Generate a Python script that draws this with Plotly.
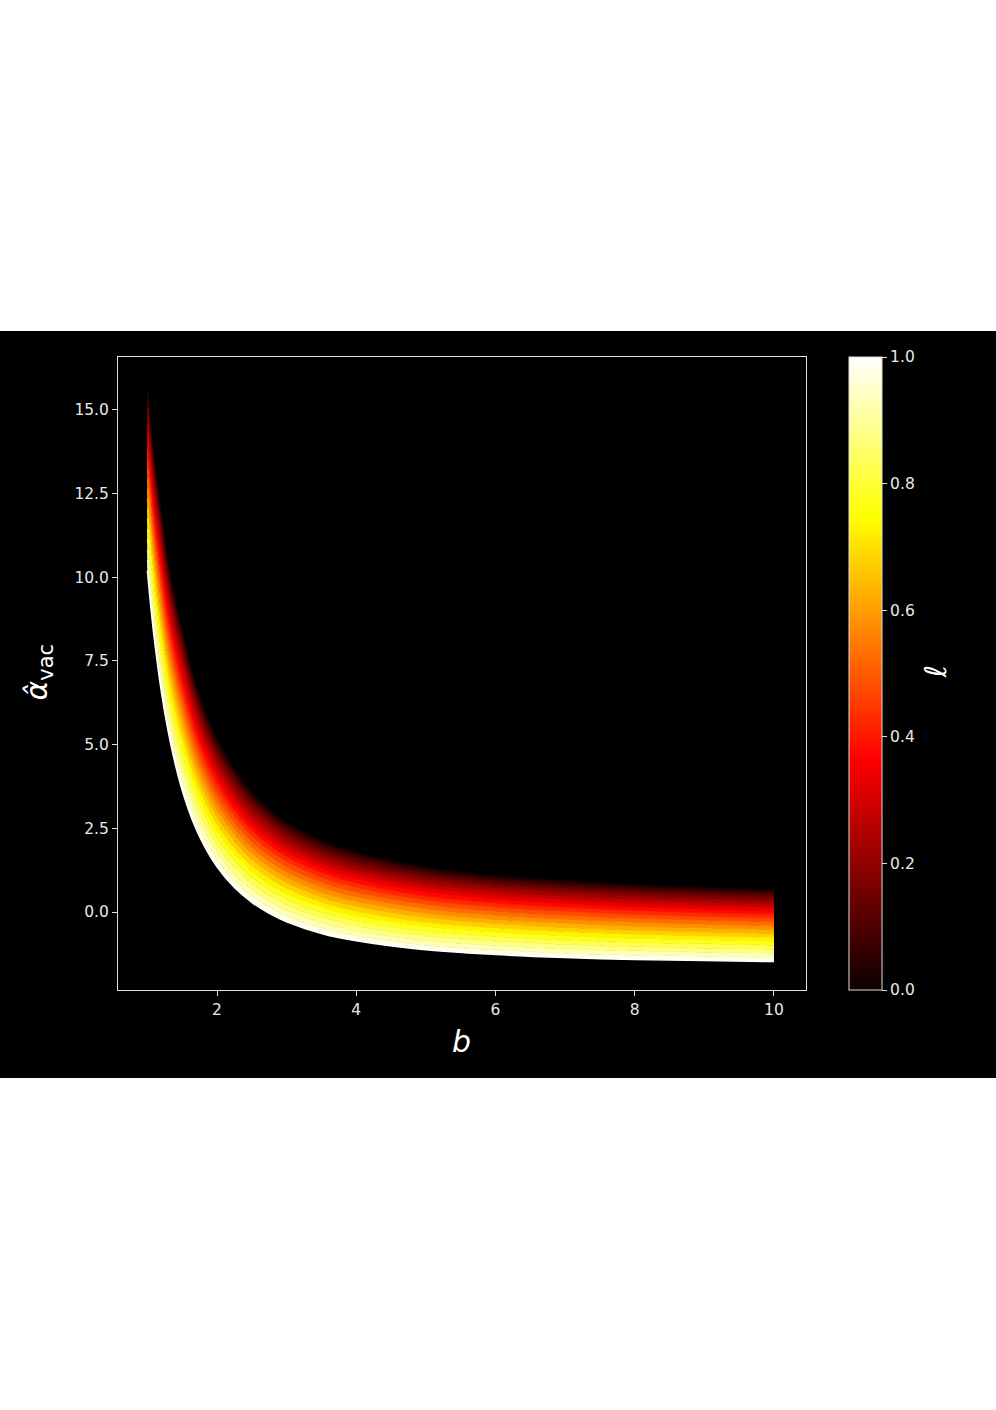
"""Deflection angle curves coloured by l (hot colormap)"""
import plotly.graph_objects as go

# impact parameter b
b_vals = [1.0, 1.05, 1.1, 1.2, 1.3, 1.4, 1.5, 1.65, 1.8, 2.0, 2.25, 2.5, 2.75,
          3.0, 3.5, 4.0, 5.0, 6.0, 7.0, 8.0, 9.0, 10.0]

# values of l for each curve
ell_vals = [0.0, 0.05, 0.1, 0.15, 0.2, 0.25, 0.3, 0.35, 0.4, 0.45, 0.5,
            0.55, 0.6, 0.65, 0.7, 0.75, 0.8, 0.85, 0.9, 0.95, 1.0]

# alpha_vac, one list per l
alpha_l000 = [15.7, 14.6, 13.6, 12.0, 10.5, 9.4, 8.5, 7.2, 6.2, 5.2, 4.3, 3.6, 3.10,
              2.7, 2.15, 1.8, 1.35, 1.1, 0.95, 0.83, 0.75, 0.68]
alpha_l005 = [15.52, 14.42, 13.43, 11.83, 10.34, 9.24, 8.35, 7.06, 6.07, 5.08, 4.19, 3.49, 3.00,
              2.60, 2.06, 1.72, 1.27, 1.02, 0.88, 0.76, 0.68, 0.61]
alpha_l010 = [15.31, 14.21, 13.21, 11.62, 10.14, 9.05, 8.16, 6.88, 5.90, 4.93, 4.05, 3.37, 2.88,
              2.49, 1.95, 1.61, 1.17, 0.93, 0.79, 0.67, 0.59, 0.53]
alpha_l015 = [15.08, 13.98, 12.99, 11.39, 9.92, 8.84, 7.95, 6.70, 5.73, 4.77, 3.90, 3.23, 2.75,
              2.36, 1.84, 1.50, 1.07, 0.83, 0.69, 0.58, 0.50, 0.44]
alpha_l020 = [14.84, 13.74, 12.74, 11.15, 9.70, 8.62, 7.74, 6.50, 5.55, 4.60, 3.74, 3.08, 2.61,
              2.23, 1.71, 1.38, 0.96, 0.73, 0.59, 0.48, 0.40, 0.34]
alpha_l025 = [14.58, 13.48, 12.49, 10.90, 9.46, 8.39, 7.51, 6.29, 5.36, 4.42, 3.58, 2.93, 2.46,
              2.09, 1.58, 1.26, 0.85, 0.62, 0.48, 0.37, 0.30, 0.24]
alpha_l030 = [14.33, 13.23, 12.24, 10.65, 9.22, 8.16, 7.29, 6.08, 5.16, 4.24, 3.41, 2.77, 2.32,
              1.95, 1.45, 1.14, 0.73, 0.51, 0.37, 0.27, 0.20, 0.14]
alpha_l035 = [14.06, 12.96, 11.97, 10.38, 8.97, 7.91, 7.05, 5.86, 4.96, 4.05, 3.23, 2.61, 2.16,
              1.81, 1.32, 1.00, 0.61, 0.39, 0.26, 0.16, 0.09, 0.03]
alpha_l040 = [13.78, 12.68, 11.70, 10.11, 8.71, 7.66, 6.80, 5.64, 4.75, 3.86, 3.05, 2.45, 2.00,
              1.66, 1.18, 0.87, 0.48, 0.27, 0.14, 0.05, -0.02, -0.07]
alpha_l045 = [13.50, 12.40, 11.42, 9.84, 8.46, 7.41, 6.56, 5.42, 4.54, 3.66, 2.88, 2.28, 1.85,
              1.51, 1.04, 0.74, 0.36, 0.15, 0.03, -0.07, -0.13, -0.18]
alpha_l050 = [13.22, 12.12, 11.14, 9.56, 8.19, 7.15, 6.31, 5.18, 4.32, 3.46, 2.69, 2.11, 1.69,
              1.35, 0.89, 0.60, 0.23, 0.03, -0.09, -0.18, -0.24, -0.29]
alpha_l055 = [12.93, 11.83, 10.86, 9.28, 7.93, 6.90, 6.06, 4.95, 4.11, 3.26, 2.51, 1.94, 1.52,
              1.20, 0.75, 0.46, 0.10, -0.09, -0.21, -0.30, -0.36, -0.41]
alpha_l060 = [12.64, 11.54, 10.57, 8.99, 7.65, 6.63, 5.80, 4.72, 3.89, 3.06, 2.32, 1.76, 1.36,
              1.04, 0.60, 0.32, -0.03, -0.22, -0.33, -0.42, -0.47, -0.52]
alpha_l065 = [12.35, 11.25, 10.28, 8.70, 7.38, 6.37, 5.54, 4.48, 3.67, 2.85, 2.13, 1.58, 1.19,
              0.88, 0.45, 0.18, -0.16, -0.34, -0.46, -0.54, -0.59, -0.64]
alpha_l070 = [12.05, 10.95, 9.98, 8.41, 7.10, 6.09, 5.27, 4.23, 3.44, 2.64, 1.93, 1.40, 1.02,
              0.71, 0.30, 0.03, -0.30, -0.47, -0.58, -0.66, -0.71, -0.75]
alpha_l075 = [11.75, 10.65, 9.69, 8.11, 6.82, 5.82, 5.01, 3.99, 3.21, 2.43, 1.74, 1.22, 0.85,
              0.55, 0.15, -0.11, -0.43, -0.60, -0.71, -0.79, -0.83, -0.87]
alpha_l080 = [11.44, 10.34, 9.38, 7.81, 6.54, 5.55, 4.74, 3.74, 2.98, 2.22, 1.54, 1.04, 0.67,
              0.39, -0.01, -0.26, -0.57, -0.73, -0.84, -0.91, -0.95, -0.99]
alpha_l085 = [11.14, 10.04, 9.08, 7.51, 6.25, 5.27, 4.47, 3.49, 2.75, 2.01, 1.34, 0.85, 0.50,
              0.22, -0.16, -0.41, -0.71, -0.87, -0.97, -1.04, -1.08, -1.11]
alpha_l090 = [10.83, 9.73, 8.77, 7.21, 5.96, 4.99, 4.19, 3.24, 2.51, 1.79, 1.14, 0.67, 0.32,
              0.05, -0.32, -0.56, -0.85, -1.00, -1.10, -1.16, -1.20, -1.23]
alpha_l095 = [10.52, 9.42, 8.46, 6.90, 5.67, 4.71, 3.92, 2.99, 2.28, 1.57, 0.94, 0.48, 0.14,
              -0.12, -0.48, -0.71, -0.99, -1.13, -1.23, -1.29, -1.32, -1.36]
alpha_l100 = [10.2, 9.10, 8.15, 6.59, 5.38, 4.42, 3.64, 2.73, 2.04, 1.35, 0.73, 0.29, -0.04,
              -0.29, -0.64, -0.86, -1.13, -1.27, -1.36, -1.42, -1.45, -1.48]

curves = [alpha_l000, alpha_l005, alpha_l010, alpha_l015, alpha_l020, alpha_l025,
          alpha_l030, alpha_l035, alpha_l040, alpha_l045, alpha_l050, alpha_l055,
          alpha_l060, alpha_l065, alpha_l070, alpha_l075, alpha_l080, alpha_l085,
          alpha_l090, alpha_l095, alpha_l100]

# ticks
cbar_ticks = [0.0, 0.2, 0.4, 0.6, 0.8, 1.0]
cbar_labels = ['0.0', '0.2', '0.4', '0.6', '0.8', '1.0']
y_ticks = [0.0, 2.5, 5.0, 7.5, 10.0, 12.5, 15.0]
y_labels = ['0.0', '2.5', '5.0', '7.5', '10.0', '12.5', '15.0']
x_ticks = [2, 4, 6, 8, 10]


def hot(v):
    # matplotlib 'hot' colormap
    r = min(1.0, 0.0416 + (1 - 0.0416) * v / 0.365079)
    g = min(1.0, max(0.0, (v - 0.365079) / (0.746032 - 0.365079)))
    bl = min(1.0, max(0.0, (v - 0.746032) / (1 - 0.746032)))
    return 'rgb(%d,%d,%d)' % (round(r * 255), round(g * 255), round(bl * 255))


hot_scale = [[0.0, hot(0.0)], [0.365079, hot(0.365079)],
             [0.746032, hot(0.746032)], [1.0, hot(1.0)]]

W, H = 996, 1410
FONT = 'DejaVu Sans'
TICKFONT = dict(family=FONT, size=15.5, color='#e8e8e8')

fig = go.Figure()

for i, (ell, ys) in enumerate(zip(ell_vals, curves)):
    fig.add_trace(go.Scatter(
        x=b_vals, y=ys, mode='lines',
        line=dict(color=hot(ell), width=1.5 if ell == 1.0 else 1,
                  shape='spline', smoothing=1.0),
        fill='tonexty' if i > 0 else 'none',
        fillcolor=hot((ell_vals[i - 1] + ell) / 2) if i > 0 else None,
        showlegend=False, hoverinfo='skip'))

# dummy trace for the colorbar
fig.add_trace(go.Scatter(
    x=[None], y=[None], mode='markers', showlegend=False,
    marker=dict(color=[0], cmin=0, cmax=1, colorscale=hot_scale, showscale=True,
                colorbar=dict(
                    x=849 / W, xanchor='left', xpad=0,
                    y=1 - 673.5 / H, yanchor='middle', ypad=0,
                    thicknessmode='pixels', thickness=33,
                    lenmode='pixels', len=633,
                    outlinecolor='#dddddd', outlinewidth=1,
                    tickvals=cbar_ticks, ticktext=cbar_labels,
                    ticks='outside', ticklen=5, tickcolor='#dddddd',
                    tickfont=TICKFONT))))

axis_common = dict(showgrid=False, zeroline=False, showline=True, mirror=True,
                   linecolor='#dddddd', linewidth=1, ticks='outside', ticklen=5,
                   tickcolor='#dddddd', tickfont=TICKFONT)

fig.update_layout(
    width=W, height=H,
    margin=dict(l=0, r=0, t=0, b=0, autoexpand=False),
    paper_bgcolor='white', plot_bgcolor='black',
    xaxis=dict(domain=[118 / W, 806 / W], range=[0.578, 10.46],
               tickvals=x_ticks, **axis_common),
    yaxis=dict(domain=[1 - 990 / H, 1 - 357 / H], range=[-2.33, 16.58],
               tickvals=y_ticks, ticktext=y_labels, **axis_common),
    shapes=[dict(type='rect', xref='paper', yref='paper', x0=0, x1=1,
                 y0=1 - 1078 / H, y1=1 - 331 / H, fillcolor='black',
                 line=dict(width=0), layer='below')],
    annotations=[
        dict(text='<i>b</i>', x=461 / W, y=1 - 1061 / H, xref='paper', yref='paper',
             showarrow=False, font=dict(family=FONT, size=30, color='white')),
        dict(text='<i>\u03b1\u0302</i><sub>vac</sub>', x=16 / W, y=1 - 672 / H,
             xref='paper', yref='paper', textangle=-90, showarrow=False,
             font=dict(family=FONT, size=30, color='white')),
        dict(text='<i>\u2113</i>', x=954 / W, y=1 - 672 / H, xref='paper', yref='paper',
             textangle=-90, showarrow=False,
             font=dict(family=FONT, size=30, color='white')),
    ])

fig.write_html("out.html", config={'displayModeBar': False},
               post_script="document.body.style.margin='0';")
